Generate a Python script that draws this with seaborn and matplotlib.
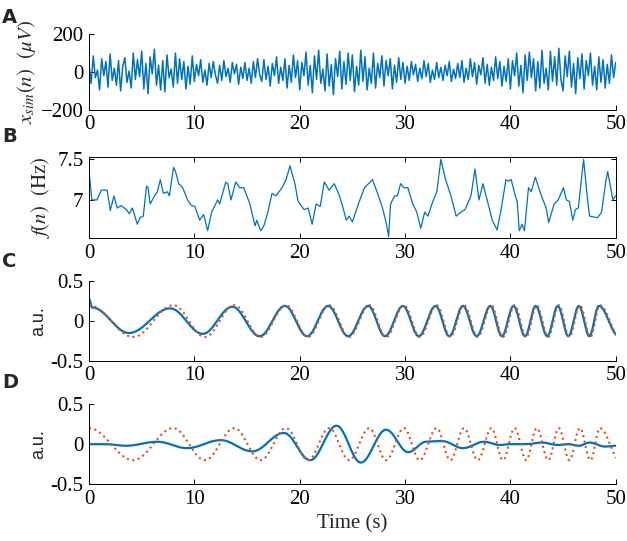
import numpy as np
import matplotlib
matplotlib.use("Agg")
import matplotlib.pyplot as plt
import seaborn as sns

## data ##

# panel A: simulated signal (uV), one value every 0.2 s
sig_step = 0.2
sig_a = [
    40, -60, 85, -30, 10, -95, 70, -20, 55, -80, 95, -45, 20, -70, 60, -100, 30, 75, -55, 5, -85, 100, -40, 65, -25,
    110, -90, 45, -115, 80, -10, 120, -70, 35, -95, 60, -105, 90, -30, 15, -80, 100, -60, 70, -40, 55, -90, 30, -65, 85,
    -50, 40, -20, 65, -55, 10, -70, 45, -30, 55, -15, -60, 35, -45, 60, -25, 20, -55, 50, -10, 40, -65, 25, -35, 50,
    -45, 20, -60, 55, -30, 70, -15, -50, 65, -40, 30, -75, 45, -20, 80, -60, 25, -45, 70, -85, 35, -55, 90, -30, 60,
    -95, 50, -20, 105, -70, 35, -110, 85, -40, 115, -60, 15, -100, 95, -75, 40, -120, 70, -25, 110, -90, 55, -65, 100, -45,
    90, -105, 30, -70, 115, -50, 80, -95, 20, -60, 100, -85, 45, -30, 85, -75, 60, -20, 70, -90, 35, -55, 75, -40, 50,
    -60, 30, -45, 55, -15, 40, -50, 20, -35, 60, -25, 45, -55, 10, -40, 50, -30, 25, -45, 35, -20, 55, -50, 15, -35,
    45, -30, 60, -55, 20, -40, 70, -25, 50, -65, 35, -15, 75, -60, 40, -70, 25, -45, 80, -35, 55, -75, 30, -50, 70,
    -90, 60, -20, 100, -75, 35, -110, 90, -45, 105, -30, 70, -100, 55, -85, 115, -60, 20, -95, 110, -50, 80, -70, 125, -40,
    -100, 85, -25, 110, -80, 45, -115, 75, -35, 95, -90, 60, -20, 100, -70, 30, -95, 80, -55, 65, -85, 40, -60, 90, -30,
    50,
]

# panel B: instantaneous frequency (Hz)
t_b = [0, 0.27, 0.76, 1.15, 1.72, 2.02, 2.37, 2.67, 3.05, 3.55, 3.82, 4.12, 4.58, 4.85, 5.15, 5.46, 5.61, 5.8,
       6.22, 6.49, 6.76, 7.06, 7.44, 7.63, 8.02, 8.21, 8.51, 8.89, 9.35, 9.73, 10.04, 10.5, 10.88, 11.26, 11.64,
       12.21, 12.4, 12.98, 13.17, 13.47, 13.93, 14.31, 14.69, 15.27, 15.76, 15.92, 16.3, 16.6, 16.98, 17.37, 17.75,
       18.32, 18.7, 19.08, 19.54, 19.85, 20.42, 20.8, 21.18, 21.56, 21.95, 22.33, 22.79, 23.28, 23.78, 24.05, 24.43,
       24.69, 25.0, 25.57, 26.15, 26.91, 27.48, 27.86, 28.24, 28.44, 28.63, 29.01, 29.27, 29.58, 29.89, 30.27, 30.73,
       31.11, 31.49, 31.87, 32.18, 32.63, 33.02, 33.4, 33.85, 34.35, 34.85, 35.31, 35.69, 36.26, 36.64, 37.02, 37.4,
       37.79, 38.28, 38.74, 39.12, 39.58, 39.81, 40.08, 40.46, 40.65, 40.84, 41.11, 41.34, 41.72, 41.98, 42.37, 42.94,
       43.4, 43.63, 44.16, 44.54, 45.04, 45.31, 45.61, 45.92, 46.18, 46.45, 46.95, 47.33, 47.52, 48.28, 48.66, 49.05,
       49.24, 49.73, 50]
f_b = [7.35, 7.0, 7.0, 7.12, 7.12, 6.87, 7.05, 6.9, 6.93, 6.88, 6.83, 6.9, 6.7, 6.78, 6.8, 7.17, 7.15, 6.95,
       7.05, 7.1, 7.25, 7.08, 7.1, 7.05, 7.4, 7.35, 7.2, 7.15, 7.0, 6.93, 6.92, 6.75, 6.82, 6.62, 6.85,
       7.0, 6.95, 7.22, 7.2, 7.0, 7.22, 7.15, 7.15, 6.95, 6.68, 6.75, 6.62, 6.68, 6.85, 7.08, 7.05,
       7.15, 7.25, 7.42, 7.2, 6.98, 6.88, 6.9, 6.7, 6.95, 6.92, 7.22, 7.12, 7.2, 7.05, 6.93, 6.75,
       6.8, 6.73, 6.95, 7.15, 7.25, 7.05, 6.9, 6.7, 6.55, 6.95, 7.05, 7.05, 7.2, 7.15, 7.15, 6.95,
       6.85, 6.65, 6.85, 6.8, 6.98, 7.1, 7.5, 7.25, 7.05, 6.8, 6.85, 6.88, 7.05, 7.38, 7.0, 7.2,
       7.0, 6.75, 6.63, 6.88, 7.25, 7.23, 7.25, 7.05, 6.98, 6.62, 6.7, 6.62, 7.15, 7.1, 7.28, 7.05,
       6.9, 6.72, 6.95, 7.0, 7.15, 7.0, 6.98, 6.75, 6.88, 6.9, 7.5, 7.0, 6.8, 6.78, 6.85, 7.22,
       7.35, 7.0, 7.05]

# reference oscillation (orange): extrema times and values
t_ref = [0, 4.2, 8.0, 11.0, 13.8, 16.3, 18.7, 20.8, 22.8, 24.7, 26.6, 28.2, 29.9, 31.4, 33.0, 34.3, 35.6,
         36.9, 38.2, 39.3, 40.4, 41.5, 42.5, 43.6, 44.6, 45.6, 46.6, 47.6, 48.5, 50.4]
v_ref = [0.2, -0.2] * 15

# panel C estimate (blue): extrema
t_c = [0, 0.3, 3.8, 7.7, 10.8, 13.6, 16.2, 18.6, 20.7, 22.7, 24.6, 26.5, 28.1, 29.8, 31.3, 32.9, 34.2, 35.5,
       36.8, 38.1, 39.2, 40.3, 41.4, 42.4, 43.5, 44.5, 45.5, 46.5, 47.5, 48.4, 50.3]
v_c = [0.28, 0.17, -0.15, 0.16, -0.16, 0.18] + [-0.19, 0.19] * 12 + [-0.19]

# panel D estimate (blue): extrema
t_d = [0, 1.5, 3.5, 6.5, 9.3, 12.5, 15.5, 18.5, 21.0, 23.5, 25.8, 28.2, 30.3, 32.0, 33.5, 35.5, 37.5, 39.0,
       40.0, 41.5, 43.0, 44.5, 45.5, 46.5, 47.5, 49.0, 50.0]
v_d = [0.0, 0.0, -0.02, 0.03, -0.05, 0.05, -0.09, 0.14, -0.2, 0.23, -0.23, 0.18, -0.1, 0.03, 0.04, -0.05, 0.03,
       -0.01, 0.0, 0.0, 0.02, -0.01, 0.0, -0.02, 0.02, -0.03, -0.02]

##

BLUE = "#0072BD"
ORANGE = "#D95319"


def smooth_through(times, vals, per_seg=30):
    # half-cosine segments between consecutive extrema, for drawing only
    xs, ys = [], []
    for i in range(len(times) - 1):
        s = np.linspace(0, 1, per_seg, endpoint=False)
        xs.append(times[i] + (times[i + 1] - times[i]) * s)
        ys.append(vals[i] + (vals[i + 1] - vals[i]) * (1 - np.cos(np.pi * s)) / 2)
    xs.append([times[-1]])
    ys.append([vals[-1]])
    return np.concatenate(xs), np.concatenate(ys)


sns.set_style("white")
plt.rcParams["font.family"] = "Liberation Serif"
plt.rcParams["mathtext.fontset"] = "stix"

fig = plt.figure(figsize=(6.27, 5.41), dpi=100)
rects = [(0.142, 0.797, 0.840, 0.140), (0.142, 0.560, 0.840, 0.150),
         (0.142, 0.333, 0.840, 0.147), (0.142, 0.105, 0.840, 0.148)]
axes = [fig.add_axes(r) for r in rects]

t_a = np.arange(len(sig_a)) * sig_step
sns.lineplot(x=t_a, y=sig_a, ax=axes[0], color=BLUE, lw=1.1, estimator=None)
sns.lineplot(x=t_b, y=f_b, ax=axes[1], color=BLUE, lw=0.9, estimator=None)

xr, yr = smooth_through(t_ref, v_ref)
xc, yc = smooth_through(t_c, v_c)
xd, yd = smooth_through(t_d, v_d)
sns.lineplot(x=xc, y=yc, ax=axes[2], color=BLUE, lw=1.6, estimator=None, sort=False)
axes[2].plot(xr, yr, color=ORANGE, lw=1.5, ls=":")
sns.lineplot(x=xd, y=yd, ax=axes[3], color=BLUE, lw=1.6, estimator=None, sort=False)
axes[3].plot(xr, yr, color=ORANGE, lw=1.5, ls=":")

for ax in axes:
    ax.set_xlim(0, 50)
    ax.set_xticks([0, 10, 20, 30, 40, 50])
    ax.tick_params(direction="in", length=3.5, labelsize=15, width=0.7, colors="black",
                   bottom=True, left=True, pad=4)
    for sp in ax.spines.values():
        sp.set_linewidth(0.7)
        sp.set_color("black")

axes[1].tick_params(top=True, right=True)

axes[0].set_ylim(-200, 200)
axes[0].set_yticks([-200, 0, 200])
axes[0].set_ylabel(r"$x_{sim}(n)\ \ (\mu V)$", fontsize=15, labelpad=2)
axes[1].set_ylim(6.53, 7.53)
axes[1].set_yticks([7, 7.5])
axes[1].set_yticklabels(["7", "7.5"])
axes[1].set_ylabel(r"$f(n)\ \ \mathrm{(Hz)}$", fontsize=15, labelpad=4)
for ax in axes[2:]:
    ax.set_ylim(-0.5, 0.5)
    ax.set_yticks([-0.5, 0, 0.5])
    ax.set_yticklabels(["-0.5", "0", "0.5"])
    ax.set_ylabel("a.u.", fontsize=13, family="Liberation Sans", labelpad=2)
axes[3].set_xlabel("Time (s)", fontsize=15)

for i in (0, 2, 3):
    axes[i].spines["top"].set_visible(False)
    axes[i].spines["right"].set_visible(False)

for ax, letter, y in zip(axes, "ABCD", [0.985, 0.765, 0.535, 0.31]):
    fig.text(0.003, y, letter, fontsize=14, fontweight="bold", family="DejaVu Sans", va="top")

fig.savefig("out.png", dpi=100)
